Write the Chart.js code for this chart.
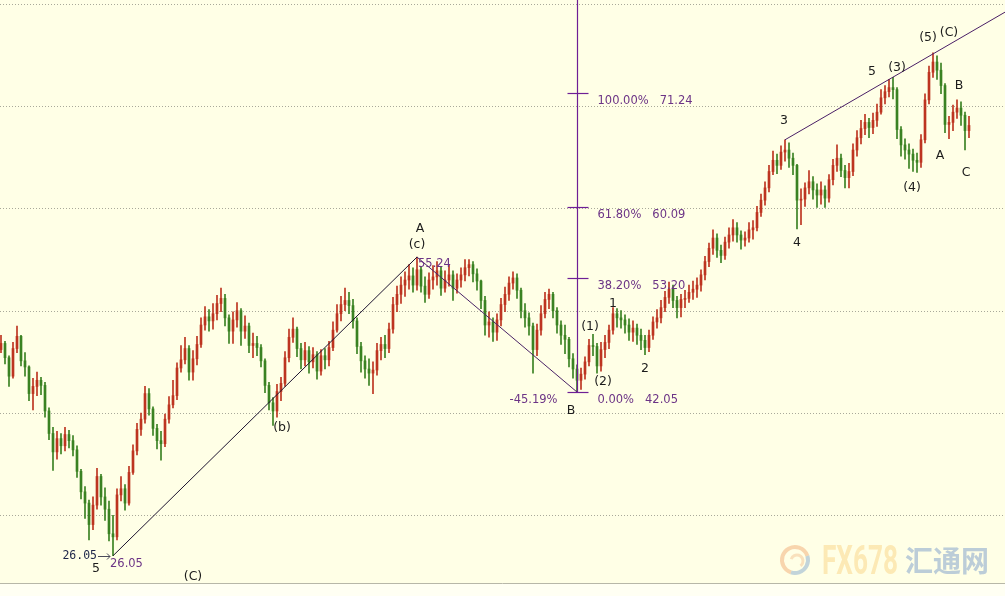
<!DOCTYPE html>
<html>
<head>
<meta charset="utf-8">
<script src="https://cdn.jsdelivr.net/npm/chart.js@4.4.1/dist/chart.umd.min.js"></script>
<style>
    html, body { margin: 0; padding: 0; background: #ffffe6; }
    #wrap { width: 1005px; height: 596px; }
</style>
</head>
<body>
<div id="wrap"><canvas id="chart" width="1005" height="596"></canvas></div>
<script>
// price data, one candle per bar (open = previous close)
const firstOpen = 46.2;
const closes = [
    46.8, 45.4, 43.6, 46.3, 47.5, 45.1, 44.5, 41.9, 42.6, 43.2,
    42.7, 40.2, 38.0, 36.2, 37.5, 36.8, 37.9, 37.3, 36.4, 34.3,
    32.3, 31.2, 29.1, 31.0, 33.8, 31.8, 30.6, 28.2, 27.9, 32.0,
    32.6, 31.2, 34.2, 36.3, 38.4, 39.4, 41.9, 40.4, 38.5, 37.3,
    37.0, 39.4, 40.8, 41.7, 44.4, 45.2, 46.3, 44.0, 45.3, 46.7,
    48.6, 49.4, 49.0, 49.7, 50.7, 51.2, 49.3, 48.0, 49.1, 50.0,
    48.0, 48.5, 46.6, 46.8, 46.4, 45.1, 42.7, 41.0, 40.2, 42.1,
    42.9, 45.4, 47.4, 48.2, 46.3, 45.2, 46.1, 45.0, 45.7, 44.1,
    45.6, 45.2, 46.4, 48.1, 49.7, 50.6, 51.0, 50.5, 49.0, 46.5,
    45.1, 44.3, 43.9, 44.2, 46.1, 46.7, 46.3, 48.2, 50.6, 51.6,
    52.5, 53.0, 53.4, 52.5, 54.0, 52.4, 51.6, 53.0, 53.3, 53.9,
    52.2, 53.0, 53.5, 52.2, 53.0, 53.5, 54.2, 54.5, 53.6, 52.9,
    51.0, 48.6, 48.9, 47.9, 49.1, 50.6, 51.6, 52.7, 53.2, 52.0,
    50.0, 49.3, 48.5, 46.2, 48.1, 49.7, 51.1, 51.6, 50.0, 48.6,
    47.6, 47.2, 45.3, 44.3, 43.2, 43.8, 45.0, 46.6, 46.5, 44.6,
    46.2, 46.9, 48.1, 49.7, 49.3, 49.1, 48.6, 47.9, 48.3, 47.6,
    47.1, 46.4, 47.6, 48.9, 49.3, 50.3, 51.3, 52.1, 51.0, 50.3,
    51.1, 51.2, 51.8, 52.1, 52.5, 53.5, 54.8, 56.1, 57.1, 55.9,
    55.4, 56.7, 57.4, 58.1, 57.4, 56.9, 57.1, 57.9, 58.1, 59.6,
    60.8, 62.0, 63.6, 64.7, 64.2, 65.5, 65.7, 64.9, 64.2, 60.8,
    60.9, 62.0, 62.6, 61.8, 61.3, 61.8, 61.0, 62.8, 64.2, 64.9,
    63.7, 63.0, 63.6, 65.7, 66.9, 67.8, 68.4, 67.9, 68.6, 69.4,
    70.8, 71.4, 71.8, 71.6, 67.7, 66.2, 65.7, 65.3, 64.7, 64.5,
    66.7, 70.6, 73.3, 74.3, 73.5, 72.0, 68.2, 68.4, 69.4, 69.8,
    69.1, 67.6, 68.1
];
const highs = [
    47.6, 47.0, 45.6, 46.9, 48.5, 47.6, 45.9, 44.6, 43.4, 44.0,
    43.5, 43.0, 40.5, 38.6, 38.2, 38.0, 38.6, 38.3, 37.8, 36.8,
    34.5, 32.8, 31.5, 31.8, 34.6, 34.0, 32.7, 31.4, 30.0, 32.6,
    33.8, 33.0, 34.8, 36.9, 39.0, 40.0, 42.6, 42.4, 40.6, 38.9,
    38.2, 39.9, 41.6, 43.2, 44.9, 46.6, 47.4, 46.6, 46.1, 47.5,
    49.3, 50.4, 50.1, 50.7, 51.5, 52.2, 51.6, 49.6, 49.9, 50.8,
    50.2, 49.5, 48.8, 47.8, 47.5, 46.7, 45.3, 43.0, 41.5, 42.8,
    43.5, 46.0, 48.2, 49.3, 48.4, 46.8, 46.9, 46.5, 46.4, 46.0,
    46.2, 46.3, 47.0, 48.9, 50.6, 51.4, 52.2, 51.8, 51.1, 49.3,
    46.9, 45.6, 45.3, 45.0, 46.8, 47.4, 47.6, 48.8, 51.3, 52.4,
    53.3, 53.8, 54.5, 54.2, 55.24, 54.3, 53.3, 53.7, 54.4, 54.8,
    54.3, 53.9, 54.5, 53.9, 53.6, 54.2, 55.0, 55.0, 54.8, 54.1,
    53.0, 51.4, 49.9, 49.3, 49.7, 51.2, 52.3, 53.3, 53.8, 53.6,
    52.2, 50.7, 49.8, 48.8, 48.7, 50.5, 51.8, 52.1, 51.8, 50.3,
    49.0, 48.6, 47.4, 45.8, 44.7, 44.4, 45.5, 47.2, 47.7, 46.8,
    46.9, 47.6, 48.6, 50.3, 50.2, 50.0, 49.6, 49.2, 49.0, 48.7,
    48.2, 47.6, 48.1, 49.4, 50.1, 51.0, 51.9, 52.8, 52.5, 51.4,
    51.6, 52.0, 52.5, 52.9, 53.2, 54.0, 55.3, 56.6, 57.9, 57.5,
    56.4, 57.2, 58.1, 58.9, 58.6, 57.8, 57.7, 58.6, 58.8, 60.2,
    61.4, 62.6, 64.2, 65.6, 65.3, 66.1, 66.7, 66.4, 65.4, 64.3,
    61.9, 62.5, 63.7, 63.1, 62.4, 62.6, 62.2, 63.3, 64.8, 66.2,
    65.3, 64.2, 64.4, 66.3, 67.6, 68.6, 69.2, 68.8, 69.3, 70.2,
    71.6, 72.0, 72.6, 72.8, 71.8, 68.0, 66.8, 66.3, 65.8, 65.4,
    67.2, 71.2, 73.9, 75.2, 74.9, 74.2, 72.2, 69.0, 70.1, 70.6,
    70.4, 69.4, 69.0
];
const lows = [
    45.9, 44.8, 42.6, 43.4, 45.9, 44.6, 43.6, 41.2, 40.3, 41.7,
    41.8, 39.6, 37.4, 34.4, 35.5, 36.0, 36.3, 36.6, 35.8, 33.7,
    31.6, 29.7, 27.6, 28.6, 30.6, 31.0, 29.5, 27.5, 26.05, 27.6,
    31.4, 30.5, 31.0, 34.0, 35.9, 37.8, 39.0, 39.8, 37.8, 36.5,
    35.4, 36.7, 39.0, 40.5, 41.3, 44.0, 44.8, 43.2, 43.2, 44.7,
    46.4, 48.1, 48.0, 48.2, 49.1, 49.9, 48.5, 46.8, 46.8, 48.4,
    46.6, 47.3, 45.9, 45.4, 45.6, 44.5, 42.0, 40.3, 38.8, 39.6,
    41.2, 42.6, 45.0, 46.9, 45.5, 44.3, 44.6, 43.9, 44.4, 43.3,
    43.7, 44.3, 44.6, 46.1, 47.9, 49.0, 50.0, 49.7, 48.3, 45.8,
    44.0, 43.4, 42.7, 41.9, 43.7, 45.2, 45.4, 45.9, 47.8, 49.9,
    50.7, 51.4, 52.1, 51.8, 52.0, 51.8, 50.8, 51.2, 52.1, 52.5,
    51.5, 51.8, 52.4, 51.0, 51.7, 52.3, 52.9, 53.4, 52.8, 52.0,
    50.2, 47.6, 47.4, 47.0, 47.1, 48.5, 49.9, 51.0, 52.1, 51.2,
    49.3, 48.4, 47.6, 43.9, 45.6, 47.6, 49.3, 50.2, 49.3, 47.8,
    46.7, 45.8, 44.5, 43.4, 42.05, 42.3, 43.3, 44.6, 45.6, 43.9,
    44.1, 45.4, 46.3, 47.7, 48.4, 48.3, 47.8, 47.1, 47.0, 46.7,
    46.2, 45.7, 46.0, 47.2, 48.3, 48.8, 49.9, 50.7, 50.3, 49.3,
    49.4, 50.3, 50.8, 51.1, 51.3, 51.9, 53.0, 54.3, 55.5, 55.2,
    54.7, 55.0, 56.1, 56.8, 56.7, 56.0, 56.3, 56.7, 57.0, 57.8,
    59.2, 60.3, 61.6, 63.3, 63.4, 63.8, 64.6, 64.0, 63.3, 58.0,
    58.4, 60.2, 61.4, 60.9, 60.1, 60.4, 60.1, 60.6, 62.3, 63.6,
    63.1, 62.0, 62.0, 63.2, 65.1, 66.3, 67.2, 66.9, 67.3, 68.0,
    69.2, 70.2, 70.9, 70.7, 66.8, 65.1, 64.8, 63.9, 63.6, 63.5,
    64.0, 66.4, 70.2, 72.8, 72.6, 71.2, 67.4, 66.8, 67.6, 68.8,
    68.1, 65.7, 66.9
];

const gridLevels = [30, 40, 50, 60, 70, 80];
const fibLevels = [42.05, 53.20, 60.09, 71.24];
const fibPercents = ["0.00%", "38.20%", "61.80%", "100.00%"];
const fibRetrace = "-45.19%";

// wave points (candle index, price)
const lowPoint = [28, 26.05];
const peakC = [104, 55.24];
const pointB = [144, 42.05];
const trendStart = [196, 66.7];
const trendEnd = [252, 79.4];

const waveLabels = ["5", "(C)", "(b)", "A", "(c)", "B", "(1)", "(2)", "1", "2",
    "3", "4", "5", "(3)", "(4)", "(5)", "(C)", "B", "A", "C"];
const waveX = [23.75, 48, 70.25, 104.75, 104, 142.5, 147.25, 150.5, 153, 161,
    195.75, 199, 217.75, 224, 227.75, 231.75, 237, 239.5, 234.75, 241.25];
const waveY = [24.76, 23.98, 38.54, 57.98, 56.42, 40.20, 48.41, 43.03, 50.65, 44.30,
    68.54, 56.61, 73.32, 73.72, 61.99, 76.65, 77.14, 71.96, 65.12, 63.45];

const opens = closes.map((c, i) => (i === 0 ? firstOpen : closes[i - 1]));
const upColor = "#bd3420";
const downColor = "#3a8222";
const candleColors = closes.map((c, i) => (c >= opens[i] ? upColor : downColor));

const FIB = "#6e1f96";
const FIB_TEXT = "#6c3486";
const INK = "#1c1c1c";

const background = {
    id: "background",
    beforeDraw(chart) {
        const { ctx, chartArea: a, width, height } = chart;
        const y = chart.scales.y;
        ctx.save();
        ctx.fillStyle = "#ffffe6";
        ctx.fillRect(0, 0, width, height);
        ctx.fillStyle = "#fffff3";
        ctx.fillRect(0, a.bottom, width, height - a.bottom);
        ctx.strokeStyle = "#b7b7a8";
        ctx.lineWidth = 1;
        ctx.beginPath();
        ctx.moveTo(0, a.bottom + 0.5);
        ctx.lineTo(width, a.bottom + 0.5);
        ctx.stroke();

        ctx.strokeStyle = "#a9a99a";
        ctx.setLineDash([1, 2]);
        gridLevels.forEach((v) => {
            const py = Math.round(y.getPixelForValue(v)) + 0.5;
            ctx.beginPath();
            ctx.moveTo(a.left, py);
            ctx.lineTo(a.right, py);
            ctx.stroke();
        });
        ctx.setLineDash([]);

        // watermark
        ctx.globalAlpha = 0.55;
        ctx.lineWidth = 4;
        ctx.strokeStyle = "#f2b27e";
        ctx.beginPath();
        ctx.arc(795, 560, 13, Math.PI * 0.6, Math.PI * 1.9);
        ctx.stroke();
        ctx.strokeStyle = "#8fb0cf";
        ctx.beginPath();
        ctx.arc(795, 560, 13, Math.PI * 1.9, Math.PI * 2.6);
        ctx.stroke();
        ctx.lineWidth = 3;
        ctx.strokeStyle = "#f4c99a";
        ctx.beginPath();
        ctx.arc(797, 561, 6, Math.PI * 1.1, Math.PI * 2.3);
        ctx.stroke();
        ctx.globalAlpha = 0.7;
        ctx.font = "bold 40px Roboto";
        ctx.textBaseline = "alphabetic";
        const fxW = ctx.measureText("FX678").width;
        const grad = ctx.createLinearGradient(822, 0, 898, 0);
        grad.addColorStop(0, "#fbe0a0");
        grad.addColorStop(1, "#f4a98f");
        ctx.fillStyle = grad;
        ctx.save();
        ctx.translate(822, 574);
        ctx.scale(76 / fxW, 1);
        ctx.fillText("FX678", 0, 0);
        ctx.restore();
        ctx.fillStyle = "#9fb8d2";
        ctx.font = "bold 29px 'Noto Sans CJK SC'";
        const cnW = ctx.measureText("汇通网").width;
        ctx.save();
        ctx.translate(905, 572);
        ctx.scale(84 / cnW, 1);
        ctx.fillText("汇通网", 0, 0);
        ctx.restore();
        ctx.restore();
    }
};

const annotations = {
    id: "annotations",
    afterDatasetsDraw(chart) {
        const { ctx, chartArea: a } = chart;
        const xs = chart.scales.x;
        const ys = chart.scales.y;
        const px = (p) => [xs.getPixelForValue(p[0]), ys.getPixelForValue(p[1])];
        ctx.save();
        ctx.beginPath();
        ctx.rect(a.left, a.top, a.right - a.left, a.bottom - a.top);
        ctx.clip();

        const line = (p1, p2, color) => {
            const [x1, y1] = px(p1);
            const [x2, y2] = px(p2);
            ctx.strokeStyle = color;
            ctx.lineWidth = 1;
            ctx.beginPath();
            ctx.moveTo(x1, y1);
            ctx.lineTo(x2, y2);
            ctx.stroke();
        };
        line(lowPoint, peakC, "#1d1430");
        line(peakC, pointB, "#4a2366");
        line(trendStart, trendEnd, "#4a1f66");

        // fibonacci tool
        const [bx, by] = px(pointB);
        const fx = Math.round(bx) + 0.5;
        ctx.strokeStyle = FIB;
        ctx.lineWidth = 1.2;
        ctx.beginPath();
        ctx.moveTo(fx, a.top);
        ctx.lineTo(fx, by);
        ctx.stroke();
        ctx.font = "11.5px 'DejaVu Sans'";
        ctx.textBaseline = "middle";
        ctx.fillStyle = FIB_TEXT;
        fibLevels.forEach((v, k) => {
            const ly = Math.round(ys.getPixelForValue(v)) + 0.5;
            ctx.beginPath();
            ctx.moveTo(fx - 10, ly);
            ctx.lineTo(fx + 11, ly);
            ctx.stroke();
            ctx.textAlign = "left";
            const pct = fibPercents[k];
            ctx.fillText(pct, fx + 20, ly + 8);
            const w = ctx.measureText(pct).width;
            ctx.fillText(v.toFixed(2), fx + 20 + w + 11, ly + 8);
        });
        ctx.lineWidth = 1;
        ctx.textAlign = "right";
        ctx.fillText(fibRetrace, fx - 20, by + 8);

        // price tags
        const [cx, cy] = px(peakC);
        ctx.textAlign = "left";
        ctx.fillText(peakC[1].toFixed(2), cx + 1, cy + 7);
        const [lx, ly] = px(lowPoint);
        ctx.fillText(lowPoint[1].toFixed(2), lx - 3, ly + 8);
        ctx.fillStyle = "#1c2448";
        ctx.font = "11.5px 'DejaVu Sans Mono'";
        ctx.textAlign = "right";
        ctx.fillText(lowPoint[1].toFixed(2), lx - 16, ly);
        ctx.strokeStyle = "#4a4a5a";
        ctx.beginPath();
        ctx.moveTo(lx - 15, Math.round(ly) + 0.5);
        ctx.lineTo(lx - 3, Math.round(ly) + 0.5);
        ctx.moveTo(lx - 6, Math.round(ly) - 2.5);
        ctx.lineTo(lx - 3, Math.round(ly) + 0.5);
        ctx.lineTo(lx - 6, Math.round(ly) + 3.5);
        ctx.stroke();

        // wave labels
        ctx.fillStyle = INK;
        ctx.font = "12.5px 'DejaVu Sans'";
        ctx.textAlign = "center";
        waveLabels.forEach((t, k) => {
            ctx.fillText(t, xs.getPixelForValue(waveX[k]), ys.getPixelForValue(waveY[k]));
        });
        ctx.restore();
    }
};

const idx = closes.map((_, i) => i);
new Chart(document.getElementById("chart"), {
    type: "bar",
    data: {
        datasets: [
            {
                data: idx.map((i) => ({ x: i, y: [lows[i], highs[i]] })),
                backgroundColor: candleColors,
                barThickness: 1,
                grouped: false,
                order: 2,
            },
            {
                data: idx.map((i) => ({ x: i, y: [opens[i], closes[i]] })),
                backgroundColor: candleColors,
                barThickness: 2,
                grouped: false,
                order: 1,
            },
        ],
    },
    options: {
        responsive: false,
        animation: false,
        events: [],
        layout: { padding: { left: 0, right: 0, top: 0, bottom: 13 } },
        plugins: { legend: { display: false }, tooltip: { enabled: false } },
        scales: {
            x: { type: "linear", display: false, offset: false, min: -0.25, max: 251 },
            y: { display: false, min: 23.39, max: 80.36 },
        },
    },
    plugins: [background, annotations],
});
</script>
</body>
</html>
